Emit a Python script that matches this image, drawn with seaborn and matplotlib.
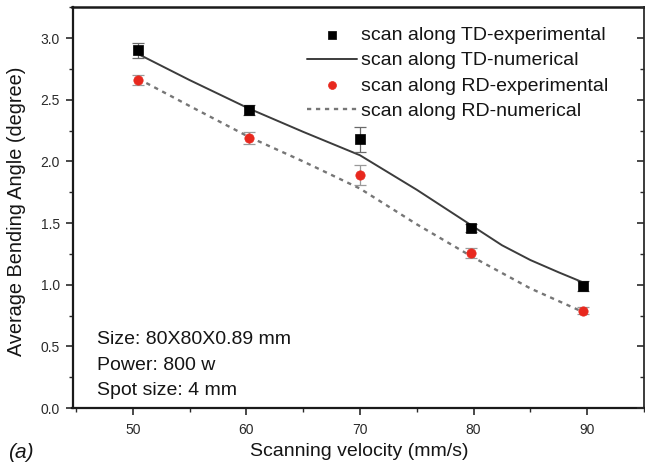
import numpy as np
import pandas as pd
import matplotlib
matplotlib.use("Agg")
import matplotlib.pyplot as plt
import seaborn as sns

# Experimental measurements (scanning velocity in mm/s, bending angle in degrees)
td_exp_v = [50.5, 60.2, 70.0, 79.8, 89.6]
td_exp_angle = [2.90, 2.42, 2.18, 1.46, 0.99]
td_exp_err = [0.06, 0.04, 0.10, 0.03, 0.04]

rd_exp_v = [50.5, 60.2, 70.0, 79.8, 89.6]
rd_exp_angle = [2.66, 2.19, 1.89, 1.26, 0.79]
rd_exp_err = [0.04, 0.05, 0.08, 0.04, 0.03]

# Numerical predictions
td_num_v = [50.5, 55, 60.2, 65, 70, 75, 80, 82.5, 85, 87.5, 89.6]
td_num_angle = [2.87, 2.66, 2.43, 2.24, 2.05, 1.77, 1.47, 1.32, 1.20, 1.10, 1.02]

rd_num_v = [50.5, 55, 60.2, 65, 70, 75, 80, 85, 89.6]
rd_num_angle = [2.67, 2.45, 2.20, 2.00, 1.78, 1.49, 1.22, 0.97, 0.78]

x_ticks = [50, 60, 70, 80, 90]
y_ticks = [0.0, 0.5, 1.0, 1.5, 2.0, 2.5, 3.0]

legend_labels = ["scan along TD-experimental", "scan along TD-numerical",
                 "scan along RD-experimental", "scan along RD-numerical"]
info_lines = ["Size: 80X80X0.89 mm", "Power: 800 w", "Spot size: 4 mm"]

sns.set_style("ticks")
plt.rcParams["font.family"] = ["Liberation Sans", "DejaVu Sans"]
plt.rcParams["text.color"] = "#151515"
plt.rcParams["axes.labelcolor"] = "#151515"

fig = plt.figure(figsize=(6.45, 4.66), dpi=100)
ax = fig.add_axes([72.5 / 645, 58 / 466, (644 - 72.5) / 645, (458.7 - 58) / 466])

td_num = pd.DataFrame({"v": td_num_v, "angle": td_num_angle})
rd_num = pd.DataFrame({"v": rd_num_v, "angle": rd_num_angle})
td_exp = pd.DataFrame({"v": td_exp_v, "angle": td_exp_angle})
rd_exp = pd.DataFrame({"v": rd_exp_v, "angle": rd_exp_angle})

sns.lineplot(data=td_num, x="v", y="angle", ax=ax, color="#3c3c3c",
             lw=1.4, sort=False, label=legend_labels[1], legend=False, zorder=2)
sns.lineplot(data=rd_num, x="v", y="angle", ax=ax, color="#767676",
             lw=1.7, sort=False, label=legend_labels[3], legend=False, zorder=2)
ax.lines[-1].set_linestyle((0, (1.8, 2.0)))

ax.errorbar(td_exp_v, td_exp_angle, yerr=td_exp_err, fmt="none",
            ecolor="#6a6a6a", elinewidth=0.9, capsize=4.5, capthick=0.9, zorder=3)
ax.errorbar(rd_exp_v, rd_exp_angle, yerr=rd_exp_err, fmt="none",
            ecolor="#9a9a9a", elinewidth=0.9, capsize=4.5, capthick=0.9, zorder=3)

sns.scatterplot(data=td_exp, x="v", y="angle", ax=ax, marker="s", s=50,
                color="black", edgecolor="black", linewidth=0.5,
                label=legend_labels[0], legend=False, zorder=4)
sns.scatterplot(data=rd_exp, x="v", y="angle", ax=ax, marker="o", s=45,
                color="#e8281e", edgecolor="#e8281e", linewidth=0.5,
                label=legend_labels[2], legend=False, zorder=4)

ax.set_xlim(44.7, 94.75)
ax.set_ylim(0, 3.25)
ax.set_xticks(x_ticks)
ax.set_xticks(np.arange(45, 96, 5), minor=True)
ax.set_yticks(y_ticks)
ax.set_yticks(np.arange(0, 3.26, 0.25), minor=True)
ax.set_yticklabels([f"{t:.1f}" for t in y_ticks])

ax.tick_params(axis="both", which="major", direction="out", length=5,
               width=1.2, labelsize=10, colors="#2a2a2a", pad=4)
ax.tick_params(axis="x", which="major", pad=6)
ax.tick_params(axis="both", which="minor", direction="out", length=3,
               width=1.0, colors="#2a2a2a")
ax.tick_params(axis="x", which="both", top=False)

for side in ["left", "bottom", "top", "right"]:
    ax.spines[side].set_visible(True)
    ax.spines[side].set_color("#1a1a1a")
ax.spines["left"].set_linewidth(1.6)
ax.spines["bottom"].set_linewidth(1.6)
ax.spines["top"].set_linewidth(1.8)
ax.spines["right"].set_linewidth(1.2)

# Mirrored inward ticks on the right-hand axis
ax_r = ax.twinx()
ax_r.set_ylim(ax.get_ylim())
ax_r.set_yticks(y_ticks)
ax_r.set_yticks(np.arange(0, 3.26, 0.25), minor=True)
ax_r.tick_params(axis="y", which="major", direction="in", length=5, width=1.2,
                 labelright=False, colors="#2a2a2a")
ax_r.tick_params(axis="y", which="minor", direction="in", length=3, width=1.0,
                 colors="#2a2a2a")
for side in ["left", "bottom", "top", "right"]:
    ax_r.spines[side].set_visible(False)

ax.set_xlabel("Scanning velocity (mm/s)", fontsize=14)
ax.set_ylabel("Average Bending Angle (degree)", fontsize=14.3)
ax.xaxis.set_label_coords(0.501, -0.087)
ax.yaxis.set_label_coords(-0.082, 0.49)

handles = [ax.collections[-2], ax.lines[0], ax.collections[-1], ax.lines[1]]
leg = ax.legend(handles=handles, labels=legend_labels, loc="upper left",
                bbox_to_anchor=(0.41, 0.952), frameon=False, fontsize=14,
                borderpad=0, borderaxespad=0, handlelength=2.6,
                handletextpad=0.2, labelspacing=0.39, markerscale=0.85)

info_y = [0.170, 0.106, 0.044]
for line, yy in zip(info_lines, info_y):
    ax.text(0.043, yy, line, transform=ax.transAxes, fontsize=14,
            ha="left", va="center")

fig.text(0.012, 0.03, "(a)", fontsize=15, style="italic", ha="left", va="center")

fig.savefig("out.png", dpi=100)
